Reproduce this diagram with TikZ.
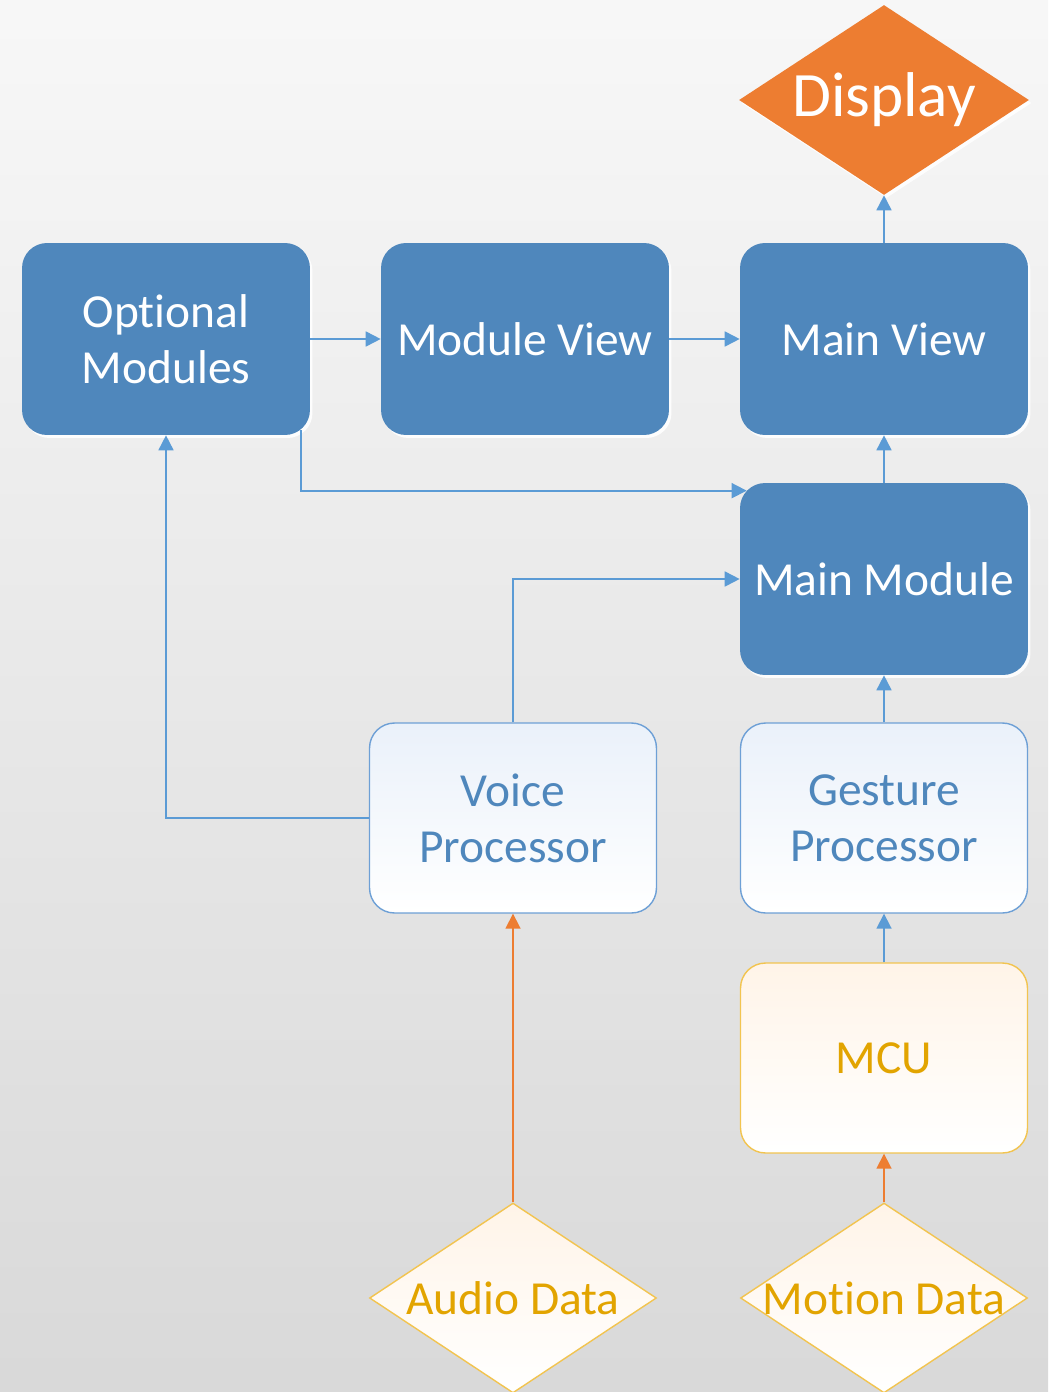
\documentclass[tikz,border=0pt]{standalone}
\usepackage{fontspec}
\setmainfont{Carlito}[Ligatures=NoCommon,RawFeature={-liga;-calt;-dlig}]
\usetikzlibrary{shapes.geometric,arrows.meta,shadows}
\definecolor{boxblue}{RGB}{79,135,188}
\definecolor{lineblue}{RGB}{91,155,213}
\definecolor{edgeblue}{RGB}{110,160,214}
\definecolor{darkorange}{RGB}{237,125,49}
\definecolor{gold}{RGB}{226,164,0}
\definecolor{goldline}{RGB}{242,196,80}
\definecolor{paleblue}{RGB}{234,241,250}
\definecolor{palepeach}{RGB}{255,244,232}

\begin{document}
\begin{tikzpicture}[x=0.02cm,y=-0.02cm,
  txt/.style={font=\fontsize{27}{32}\selectfont,align=center},
  glow/.style={drop shadow={shadow xshift=0.05cm,shadow yshift=-0.06cm,fill=white,opacity=0.9}},
  module/.style={txt,rectangle,rounded corners=0.5cm,minimum width=5.76cm,minimum height=3.84cm,fill=boxblue,text=white,glow},
  proc/.style={txt,rectangle,rounded corners=0.5cm,minimum width=5.74cm,minimum height=3.8cm,draw=edgeblue,line width=0.8pt,shading=axis,shading angle=45,top color=paleblue,bottom color=white,text=boxblue},
  chip/.style={proc,draw=goldline,top color=palepeach,text=gold},
  display/.style={diamond,inner sep=0pt,minimum width=5.8cm,minimum height=3.8cm,fill=darkorange,glow},
  datain/.style={diamond,inner sep=0pt,minimum width=5.74cm,minimum height=3.8cm,draw=goldline,line width=0.8pt,shading=axis,shading angle=45,top color=palepeach,bottom color=white},
  flow/.style={draw=lineblue,line width=1pt,-{Triangle[length=0.3cm,width=0.3cm]}},
  inflow/.style={flow,draw=darkorange}]

% backdrop
\shade[use as bounding box,top color=black!3,middle color=black!6,bottom color=black!15] (0,0) rectangle (1048,1392);

\node[display,label={[font=\fontsize{36}{40}\selectfont,text=white]center:Display}] (display) at (884,100) {};
\node[module] (optmod) at (166,339) {Optional\\Modules};
\node[module] (modview) at (525,339) {Module View};
\node[module] (mainview) at (884,339) {Main View};
\node[module] (mainmod) at (884,579) {Main Module};
\node[proc] (voice) at (513,818) {Voice\\Processor};
\node[proc] (gesture) at (884,818) {Gesture\\Processor};
\node[chip] (mcu) at (884,1058) {MCU};
\node[datain,label={[txt,text=gold]center:Audio Data}] (audio) at (513,1298) {};
\node[datain,label={[txt,text=gold]center:Motion Data}] (motion) at (884,1298) {};

\draw[flow] (optmod) -- (modview);
\draw[flow] (modview) -- (mainview);
\draw[flow] (mainview) -- (display);
\draw[flow] (mainmod) -- (mainview);
\draw[flow] (gesture) -- (mainmod);
\draw[flow] (mcu) -- (gesture);
\draw[flow] ([xshift=-0.18cm,yshift=0.1cm]optmod.south east) |- ([xshift=0.14cm,yshift=-0.16cm]mainmod.north west);
\draw[flow] (voice.north) |- (mainmod.west);
\draw[flow] (voice.west) -| (optmod.south);
\draw[inflow] (audio) -- (voice);
\draw[inflow] (motion) -- (mcu);
\end{tikzpicture}
\end{document}
